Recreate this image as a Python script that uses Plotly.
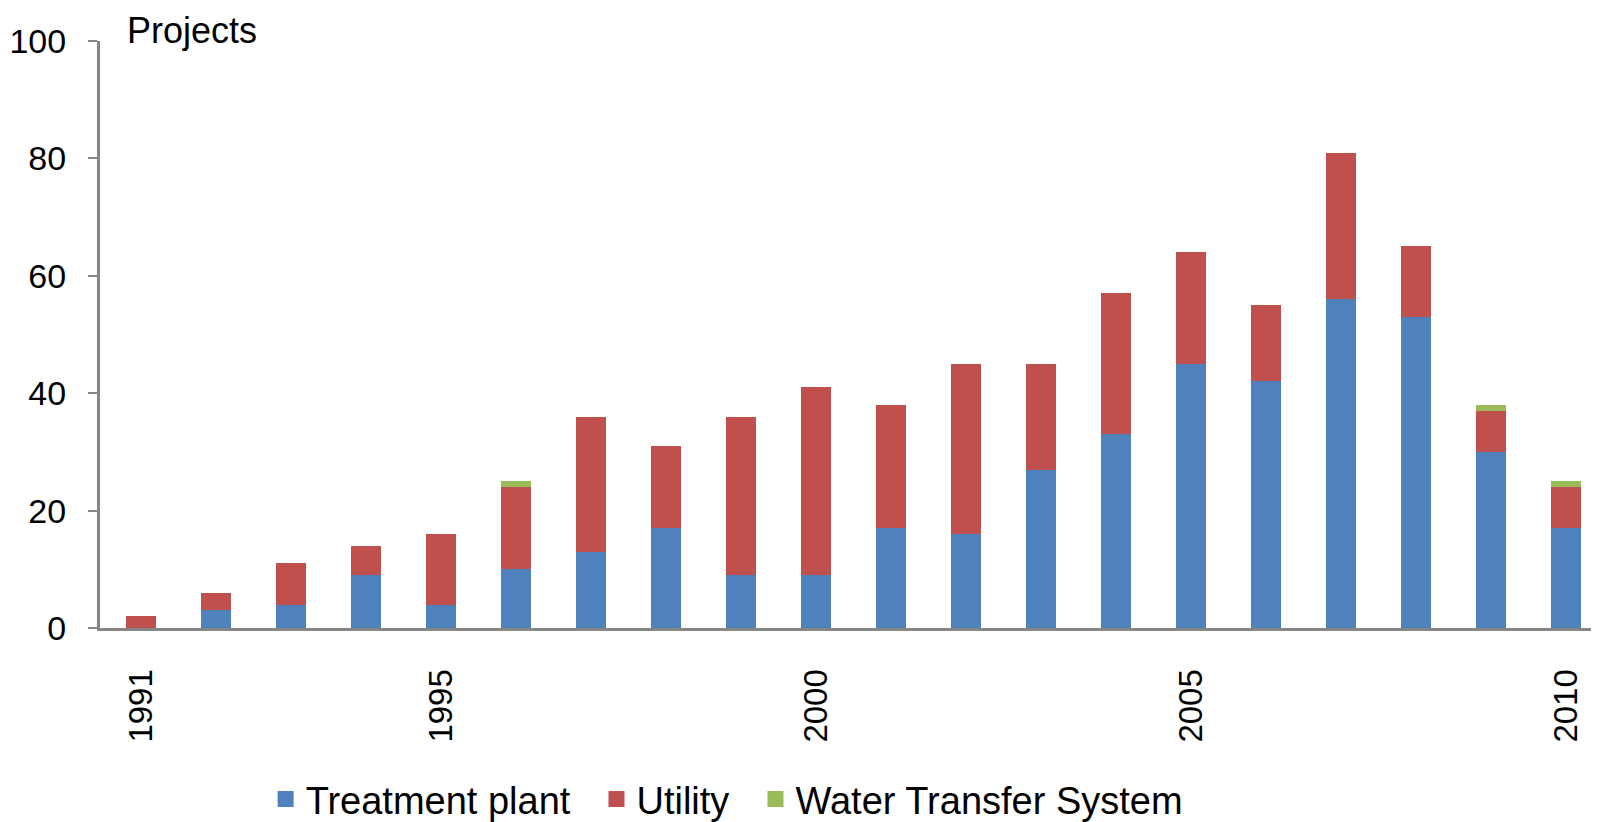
import plotly.graph_objects as go

years = list(range(1991, 2011))
treatment = [0, 3, 4, 9, 4, 10, 13, 17, 9, 9, 17, 16, 27, 33, 45, 42, 56, 53, 30, 17]
utility = [2, 3, 7, 5, 12, 14, 23, 14, 27, 32, 21, 29, 18, 24, 19, 13, 25, 12, 7, 7]
water = [0, 0, 0, 0, 0, 1, 0, 0, 0, 0, 0, 0, 0, 0, 0, 0, 0, 0, 1, 1]

x_ticks = [1991, 1995, 2000, 2005, 2010]

series = [
    ("Treatment plant", treatment, "#4F81BD"),
    ("Utility", utility, "#C0504D"),
    ("Water Transfer System", water, "#9BBB59"),
]

FONT = "Arial, Liberation Sans, sans-serif"
AXIS = "#868686"
PAD = "\u00a0\u00a0"  # extra room between legend entries

fig = go.Figure()
for name, vals, color in series:
    fig.add_trace(go.Bar(x=years, y=vals, name=name, showlegend=False,
                         marker=dict(color=color, line=dict(width=0)), width=0.4))
# legend keys: bigger squares than the bar legend symbol
for i, (name, vals, color) in enumerate(series):
    label = name + (PAD if i < len(series) - 1 else "")
    fig.add_trace(go.Scatter(x=[None], y=[None], mode="markers", name=label,
                             marker=dict(symbol="square", size=17, color=color)))

# the page body has an 8px margin, so everything is placed 8px up/left
fig.update_layout(
    width=1599, height=822,
    barmode="stack",
    margin=dict(l=92, r=8, t=33, b=202),
    paper_bgcolor="white",
    plot_bgcolor="white",
    font=dict(family=FONT, size=35, color="black"),
    showlegend=True,
    legend=dict(orientation="h", x=0.1105, xanchor="left",
                yref="container", y=0.0375, yanchor="middle",
                font=dict(size=38), traceorder="normal", itemclick=False),
    xaxis=dict(
        range=[1990.453, 2010.44],
        tickvals=x_ticks,
        ticktext=[str(v) for v in x_ticks],
        tickangle=-90,
        ticks="",
        showline=True, linecolor=AXIS, linewidth=3,
        showgrid=False, zeroline=False,
        ticklabelstandoff=25,
        tickfont=dict(size=33),
        automargin=False,
    ),
    yaxis=dict(
        range=[0, 100],
        dtick=20,
        ticks="outside", ticklen=9, tickwidth=2, tickcolor=AXIS,
        showline=True, linecolor=AXIS, linewidth=3,
        showgrid=False, zeroline=False,
        ticklabelstandoff=15,
        tickfont=dict(size=34),
        automargin=False,
    ),
    annotations=[dict(text="Projects", xref="paper", yref="paper",
                      x=0.0167, y=1 + 33 / 587, xanchor="left", yanchor="top",
                      showarrow=False, font=dict(size=36))],
)

fig.write_html("out.html")
